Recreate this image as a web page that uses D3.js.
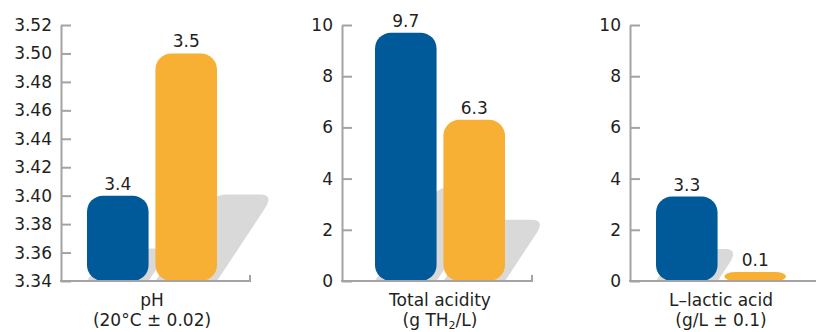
<!DOCTYPE html>
<html>
<head>
<meta charset="utf-8">
<script src="https://cdn.jsdelivr.net/npm/d3@7"></script>
<style>
  html, body { margin: 0; padding: 0; background: #fff; }
  svg { display: block; font-family: "DejaVu Sans", Verdana, sans-serif; }
</style>
</head>
<body>
<svg id="chart" width="816" height="332"></svg>
<script>
// Measured parameters, one entry per panel
const panelNames = ["pH", "Total acidity", "L–lactic acid"];
const panelUnits = ["(20°C ± 0.02)", "(g TH|2|/L)", "(g/L ± 0.1)"];
const seriesA = [3.4, 9.7, 3.3];   // blue bars
const seriesB = [3.5, 6.3, 0.1];   // orange bars
const phTicks = [3.34, 3.36, 3.38, 3.40, 3.42, 3.44, 3.46, 3.48, 3.50, 3.52];
const acidTicks = [0, 2, 4, 6, 8, 10];
const panelDomains = [[3.34, 3.52], [0, 10], [0, 10]];
const panelTicks = [phTicks, acidTicks, acidTicks];
const tickFormats = [d3.format(".2f"), d3.format("d"), d3.format("d")];

// Layout
const baseY = 281, topY = 25;
const axisX = [61, 342, 630];
const axisEnd = [250, 532, 822];
const groupX = [87, 375, 656];
const groupW = 130;
const colors = { A: "#005a9a", B: "#f7b033" };
const shadowColor = "#d9d9d9";
const axisColor = "#a3a3a3";
const textColor = "#231f20";

const svg = d3.select("#chart");
const gShadow = svg.append("g");
const gBars = svg.append("g");
const gAxes = svg.append("g");
const gText = svg.append("g");

function shadowPath(x, w, h) {
  const sh = 0.38 * h;          // projected height
  const k = 0.66;               // horizontal lean per pixel of height
  const s = sh * k;
  const r = Math.min(14, sh / 2);
  const p = d3.path();
  p.moveTo(x, baseY);
  p.lineTo(x + w, baseY);
  p.lineTo(x + w + s - r * k, baseY - sh + r);
  p.quadraticCurveTo(x + w + s, baseY - sh, x + w + s - r, baseY - sh);
  p.lineTo(x + s + r, baseY - sh);
  p.quadraticCurveTo(x + s, baseY - sh, x + s - r * k, baseY - sh + r);
  p.closePath();
  return p.toString();
}

panelNames.forEach((name, i) => {
  const y = d3.scaleLinear().domain(panelDomains[i]).range([baseY, topY]);
  const x = d3.scaleBand().domain(["A", "B"])
    .range([groupX[i], groupX[i] + groupW]).paddingInner(0.1);
  const bars = [
    { key: "A", value: seriesA[i] },
    { key: "B", value: seriesB[i] }
  ];
  const minH = 9;
  const barH = d => Math.max(baseY - y(d.value), minH);

  // shadows cast behind bars
  gShadow.selectAll(null).data(bars).enter().append("path")
    .attr("d", d => shadowPath(x(d.key), x.bandwidth(), baseY - y(d.value)))
    .attr("fill", shadowColor);

  // bars with rounded ends
  gBars.selectAll(null).data(bars).enter().append("rect")
    .attr("x", d => x(d.key))
    .attr("width", x.bandwidth())
    .attr("y", d => baseY - barH(d))
    .attr("height", barH)
    .attr("rx", d => Math.min(16, x.bandwidth() / 2, barH(d) * 1.25))
    .attr("ry", d => Math.min(16, barH(d) / 2))
    .attr("fill", d => colors[d.key]);

  // value labels
  gText.selectAll(null).data(bars).enter().append("text")
    .attr("x", d => x(d.key) + x.bandwidth() / 2)
    .attr("y", d => baseY - barH(d) - 6)
    .attr("text-anchor", "middle")
    .attr("font-size", 17)
    .attr("fill", textColor)
    .text(d => d3.format(".1f")(d.value));

  // y axis with inward ticks
  const ax = gAxes.append("g")
    .attr("transform", `translate(${axisX[i]},0)`)
    .call(d3.axisLeft(y).tickValues(panelTicks[i]).tickFormat(tickFormats[i])
      .tickSizeInner(-10).tickSizeOuter(0).tickPadding(9));
  ax.select(".domain").attr("stroke", axisColor).attr("stroke-width", 2);
  ax.selectAll(".tick line").attr("stroke", axisColor).attr("stroke-width", 2);
  ax.selectAll(".tick text")
    .attr("font-size", 17)
    .attr("font-family", "DejaVu Sans, Verdana, sans-serif")
    .attr("fill", textColor);

  // baseline with end tick
  gAxes.append("path")
    .attr("d", `M${axisX[i] - 1},${baseY}H${axisEnd[i]}V${baseY - 6}`)
    .attr("fill", "none")
    .attr("stroke", axisColor)
    .attr("stroke-width", 2);

  // category label (two lines)
  const cx = groupX[i] + groupW / 2;
  gText.append("text")
    .attr("x", cx).attr("y", 306)
    .attr("text-anchor", "middle")
    .attr("font-size", 17)
    .attr("fill", textColor)
    .text(name);
  const unit = gText.append("text")
    .attr("x", cx).attr("y", 326)
    .attr("text-anchor", "middle")
    .attr("font-size", 17)
    .attr("fill", textColor);
  const parts = panelUnits[i].split("|");
  parts.forEach((part, j) => {
    const t = unit.append("tspan").text(part);
    if (j % 2 === 1) t.attr("font-size", 11).attr("dy", 2.5);
    else if (j > 0) t.attr("dy", -2.5);
  });
});
</script>
</body>
</html>
